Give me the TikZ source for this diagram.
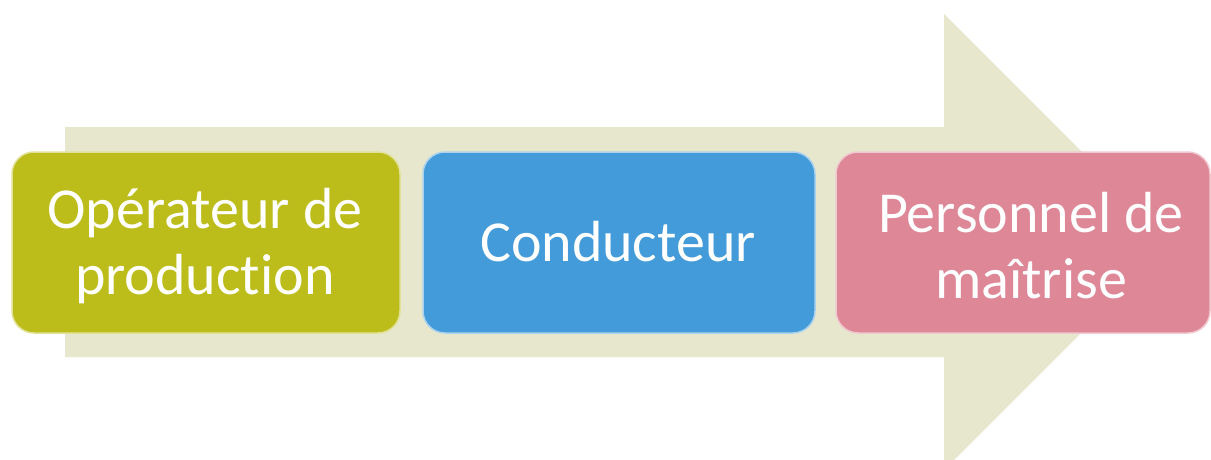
\documentclass[tikz,border=0pt]{standalone}
\usepackage{fontspec}
\setmainfont{Carlito}[Ligatures=NoCommon]
\definecolor{arrowcol}{HTML}{E6E7CD}
\definecolor{greencol}{HTML}{BCBD1B}
\definecolor{bluecol}{HTML}{439CD9}
\definecolor{pinkcol}{HTML}{DE8797}
\begin{document}
\begin{tikzpicture}[x=1pt,y=-1pt,
  card/.style={rounded corners=22pt, minimum height=181pt, inner sep=0pt,
    line width=1.5pt},
  lbl/.style={text=white, align=center, inner sep=0pt,
    font=\fontsize{58}{66}\selectfont}]
\useasboundingbox (0,0) rectangle (1211,460);
\clip (0,0) rectangle (1211,460);
\fill[white] (0,0) rectangle (1211,460);
\fill[arrowcol] (65,127) -- (944,127) -- (944,14) -- (1172,242) -- (944,470) -- (944,357) -- (65,357) -- cycle;
\node[card, fill=greencol, draw=greencol!45!white, minimum width=388pt] (op) at (206,242.5) {};
\node[card, fill=bluecol, draw=bluecol!45!white, minimum width=392pt] (co) at (619,242.5) {};
\node[card, fill=pinkcol, draw=pinkcol!45!white, minimum width=374pt] (pm) at (1023,242.5) {};
\node[lbl] (opt) at (205,246) {Opérateur de\\production};
\node[lbl] (cot) at (618,242) {Conducteur};
\node[lbl] (pmt) at (1031,246) {Personnel de\\maîtrise};
\end{tikzpicture}
\end{document}
